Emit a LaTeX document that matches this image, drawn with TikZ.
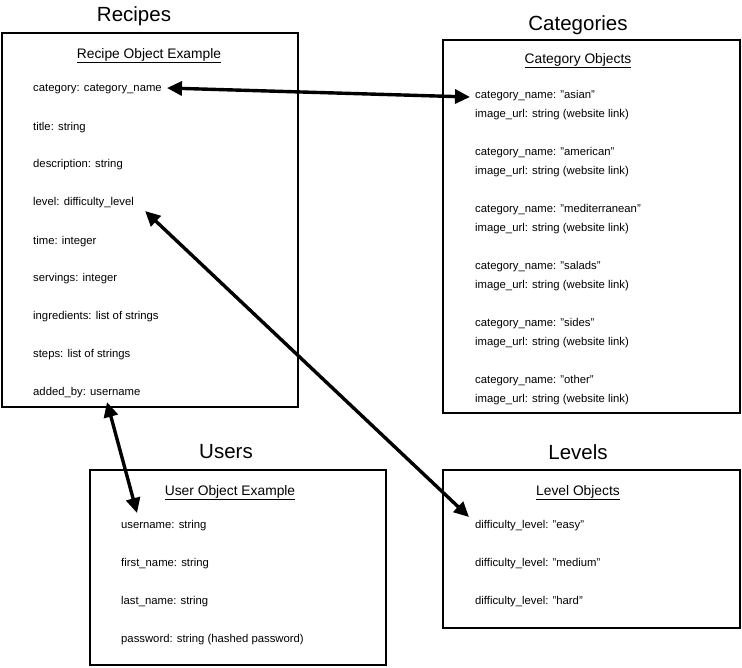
\documentclass[tikz,border=0pt]{standalone}
\usepackage{fontspec}
\setmainfont{Liberation Sans}
\usetikzlibrary{arrows.meta,calc}
\begin{document}
\begin{tikzpicture}[x=1pt,y=-1pt,
  frame/.style={draw,line width=2.8pt,inner sep=0pt},
  title/.style={font=\fontsize{20.5}{24}\selectfont,inner sep=0pt,yshift=-2pt},
  subtitle/.style={font=\fontsize{13.8}{16}\selectfont,inner sep=0pt,yshift=-2.5pt},
  field/.style={font=\fontsize{11.3}{13}\selectfont,anchor=west,inner sep=0pt,yshift=-2pt},
  link/.style={line width=3.4pt,{Triangle[length=15pt,width=14pt]}-{Triangle[length=15pt,width=14pt]}}]
\useasboundingbox (0,0) rectangle (742,667);

% frames
\draw[frame] (2,33) rectangle (298,407);
\draw[frame] (443,40) rectangle (740,413);
\draw[frame] (90,470) rectangle (386,665);
\draw[frame] (443,470) rectangle (740,628);

% titles
\node[title] (trec) at (134,14) {Recipes};
\node[title] (tcat) at (578,23) {Categories};
\node[title] (tuse) at (226,450) {Users};
\node[title] (tlev) at (578,450) {Levels};

\node[subtitle] (srec) at (149,53) {\underline{Recipe Object Example}};
\node[subtitle] (scat) at (578,58) {\underline{Category Objects}};
\node[subtitle] (suse) at (230,490) {\underline{User Object Example}};
\node[subtitle] (slev) at (578,490) {\underline{Level Objects}};

% recipe fields
\node[field] (rcat) at (33,87) {category: category\_name};
\node[field] (rtitle) at (33,126) {title: string};
\node[field] (rdesc) at (33,163) {description: string};
\node[field] (rlevel) at (33,201) {level: difficulty\_level};
\node[field] (rtime) at (33,240) {time: integer};
\node[field] (rserv) at (33,277) {servings: integer};
\node[field] (ring) at (33,315) {ingredients: list of strings};
\node[field] (rsteps) at (33,353) {steps: list of strings};
\node[field] (radded) at (33,391) {added\_by: username};

% category fields
\node[field] (casian) at (475,94) {category\_name: "asian"};
\node[field] (casianu) at (475,113) {image\_url: string (website link)};
\node[field] (camer) at (475,151) {category\_name: "american"};
\node[field] (cameru) at (475,170) {image\_url: string (website link)};
\node[field] (cmed) at (475,208) {category\_name: "mediterranean"};
\node[field] (cmedu) at (475,227) {image\_url: string (website link)};
\node[field] (csal) at (475,265) {category\_name: "salads"};
\node[field] (csalu) at (475,284) {image\_url: string (website link)};
\node[field] (csid) at (475,322) {category\_name: "sides"};
\node[field] (csidu) at (475,341) {image\_url: string (website link)};
\node[field] (coth) at (475,379) {category\_name: "other"};
\node[field] (cothu) at (475,398) {image\_url: string (website link)};

% user fields
\node[field] (uname) at (121,524) {username: string};
\node[field] (ufirst) at (121,562) {first\_name: string};
\node[field] (ulast) at (121,600) {last\_name: string};
\node[field] (upass) at (121,638) {password: string (hashed password)};

% level fields
\node[field] (leasy) at (475,524) {difficulty\_level: "easy"};
\node[field] (lmed) at (475,562) {difficulty\_level: "medium"};
\node[field] (lhard) at (475,600) {difficulty\_level: "hard"};

% links
\draw[link] ($(rcat.east)+(5,-1)$) -- ($(casian.west)+(-5,1)$);
\draw[link] ($(rlevel.east)+(11,8)$) -- ($(leasy.west)+(-6,-9)$);
\draw[link] ($(radded.west)+(74,9)$) -- ($(uname.west)+(16,-13)$);
\end{tikzpicture}
\end{document}
